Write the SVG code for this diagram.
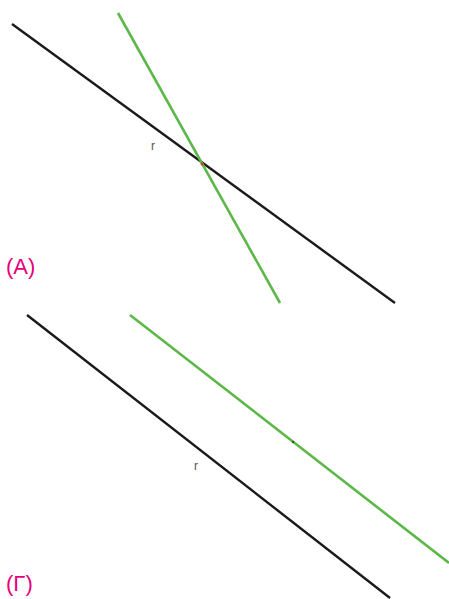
<svg xmlns="http://www.w3.org/2000/svg" width="449" height="599" viewBox="0 0 449 599">
<style>
.bk{stroke:#1a1a1a;stroke-width:2.4;fill:none}
.gr{stroke:#5cb848;stroke-width:2.6;fill:none}
.lbl{font-family:"Liberation Sans",Arial,sans-serif;font-size:22px;fill:#e4007c}
.r{font-family:"Liberation Sans",Arial,sans-serif;font-size:12px;fill:#555}
</style>
<rect width="449" height="599" fill="#fff"/>
<g id="panelA">
<line class="bk" x1="12" y1="24" x2="395" y2="303"/>
<line class="gr" x1="118" y1="13" x2="280" y2="303"/>
<circle cx="202" cy="164" r="1.5" fill="#d04020"/>
<text class="r" x="151" y="150">r</text>
<text class="lbl" x="6" y="274">(A)</text>
</g>
<g id="panelG">
<line class="bk" x1="27" y1="315" x2="390" y2="598"/>
<line class="gr" x1="130" y1="315" x2="449" y2="563"/>
<circle cx="293" cy="442" r="1.2" fill="#335522"/>
<text class="r" x="194" y="470">r</text>
<text class="lbl" x="6" y="591">(Γ)</text>
</g>
</svg>
